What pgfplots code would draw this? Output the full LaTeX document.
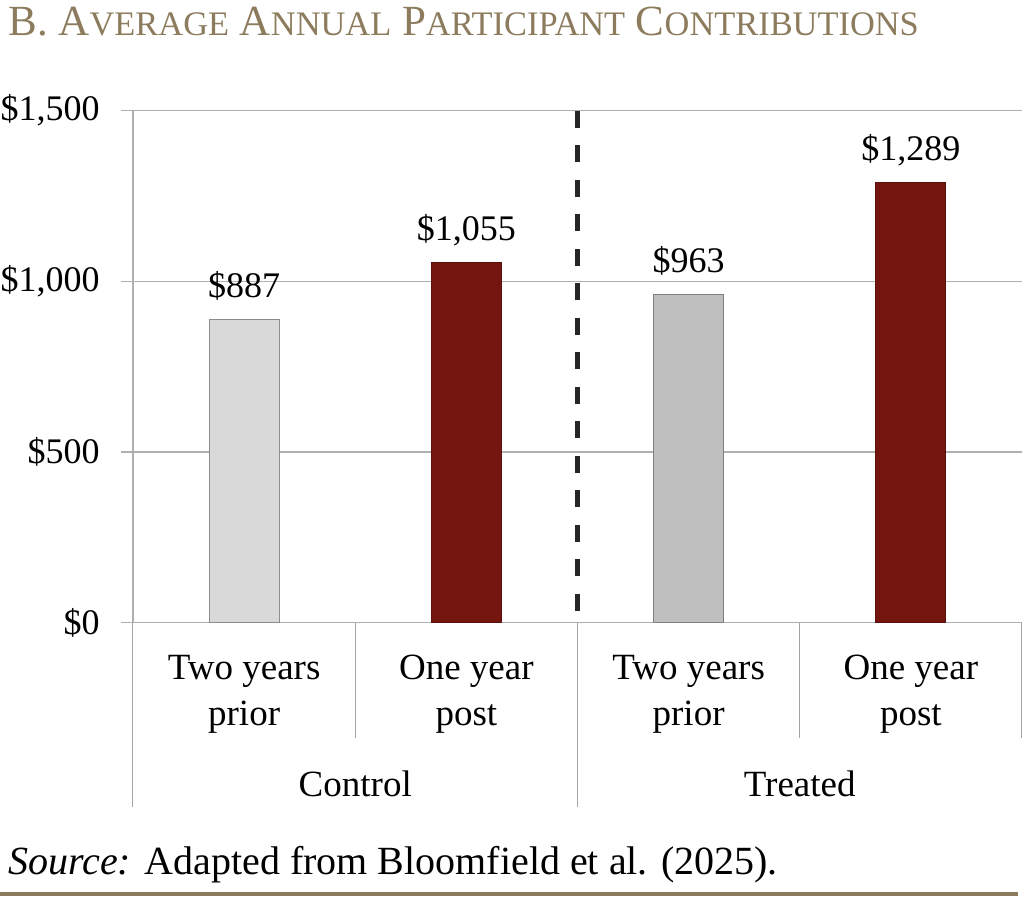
\documentclass[border=0pt]{standalone}
\usepackage{fontspec}
\setmainfont{Liberation Serif}
\usepackage{pgfplots}
\pgfplotsset{compat=1.18}

\definecolor{gold}{HTML}{8C7B5C}
\definecolor{lightbar}{HTML}{D9D9D9}
\definecolor{midbar}{HTML}{BFBFBF}
\definecolor{darkred}{HTML}{75150F}
\definecolor{gridgray}{HTML}{B0B0B0}
\definecolor{sepgray}{HTML}{A6A6A6}

% faux small caps for the title
\newcommand\smc[1]{{\fontsize{17.2}{20}\selectfont #1}}

\begin{document}
\begin{tikzpicture}
% page: 1024 x 901 px at 0.5pt per px
\useasboundingbox (0pt,0pt) rectangle (512pt,-450.5pt);

\node[anchor=base west, inner sep=0pt, text=gold] at (4pt,-17.5pt)
  {\fontsize{21.5}{24}\selectfont B. A\smc{VERAGE} A\smc{NNUAL} P\smc{ARTICIPANT} C\smc{ONTRIBUTIONS}};

\begin{axis}[
    at={(66.5pt,-311.35pt)}, anchor=south west,
    scale only axis, width=444.5pt, height=256pt,
    xmin=-0.5, xmax=3.5, ymin=0, ymax=1500,
    clip=false,
    axis lines*=left,
    axis line style={gridgray, line width=0.6pt},
    ymajorgrids,
    grid style={gridgray, line width=0.75pt},
    ytick={0,500,1000,1500},
    yticklabels={\$0,\$500,{\$1,000},{\$1,500}},
    ytick style={gridgray, line width=0.75pt},
    major tick length=6pt,
    tick align=outside,
    yticklabel style={font=\fontsize{18}{20}\selectfont, inner sep=0pt, xshift=-10.5pt},
    xtick={0,1,2,3},
    xticklabels={{Two years\\prior},{One year\\post},{Two years\\prior},{One year\\post}},
    xtick style={draw=none},
    xticklabel style={font=\fontsize{18.5}{23}\selectfont, align=center, anchor=north, inner sep=0pt, yshift=-10pt},
    nodes near coords style={font=\fontsize{18}{20}\selectfont, anchor=base, inner sep=0pt, yshift=11pt},
]

\addplot[ybar, bar width=35pt, bar shift=0pt, fill=lightbar, draw=black!45, line width=0.5pt,
  nodes near coords={\$\pgfmathprintnumber[assume math mode=true, 1000 sep={,}, fixed, precision=0]{\pgfplotspointmeta}}]
  coordinates {(0,887)};
\addplot[ybar, bar width=35pt, bar shift=0pt, fill=darkred, draw=darkred!80!black, line width=0.5pt,
  nodes near coords={\$\pgfmathprintnumber[assume math mode=true, 1000 sep={,}, fixed, precision=0]{\pgfplotspointmeta}}]
  coordinates {(1,1055)};
\addplot[ybar, bar width=35pt, bar shift=0pt, fill=midbar, draw=black!50, line width=0.5pt,
  nodes near coords={\$\pgfmathprintnumber[assume math mode=true, 1000 sep={,}, fixed, precision=0]{\pgfplotspointmeta}}]
  coordinates {(2,963)};
\addplot[ybar, bar width=35pt, bar shift=0pt, fill=darkred, draw=darkred!80!black, line width=0.5pt,
  nodes near coords={\$\pgfmathprintnumber[assume math mode=true, 1000 sep={,}, fixed, precision=0]{\pgfplotspointmeta}}]
  coordinates {(3,1289)};

% dashed divider between groups
\draw[black!85, line width=2.5pt, dash pattern=on 8.5pt off 8.75pt]
  (axis cs:1.5,1500) -- (axis cs:1.5,0);

% category separators below the axis
\draw[sepgray, line width=0.5pt] (axis cs:-0.5,0) -- ++(0pt,-92pt);
\draw[sepgray, line width=0.5pt] (axis cs:1.5,0) -- ++(0pt,-92pt);
\draw[sepgray, line width=0.5pt] (axis cs:0.5,0) -- ++(0pt,-57.5pt);
\draw[sepgray, line width=0.5pt] (axis cs:2.5,0) -- ++(0pt,-57.5pt);
\draw[sepgray, line width=0.5pt] (axis cs:3.5,0) -- ++(0pt,-57.5pt);

% group labels
\node[anchor=base, inner sep=0pt, font=\fontsize{18.5}{22}\selectfont] at (axis cs:0.5,0) [yshift=-87pt] {Control};
\node[anchor=base, inner sep=0pt, font=\fontsize{18.5}{22}\selectfont] at (axis cs:2.5,0) [yshift=-87pt] {Treated};
\end{axis}

\node[anchor=base west, inner sep=0pt] at (4pt,-437pt)
  {\fontsize{20}{23}\selectfont\textit{Source:} Adapted from Bloomfield et al. (2025).};
\draw[gold, line width=2pt] (0pt,-447pt) -- (509pt,-447pt);
\end{tikzpicture}
\end{document}
